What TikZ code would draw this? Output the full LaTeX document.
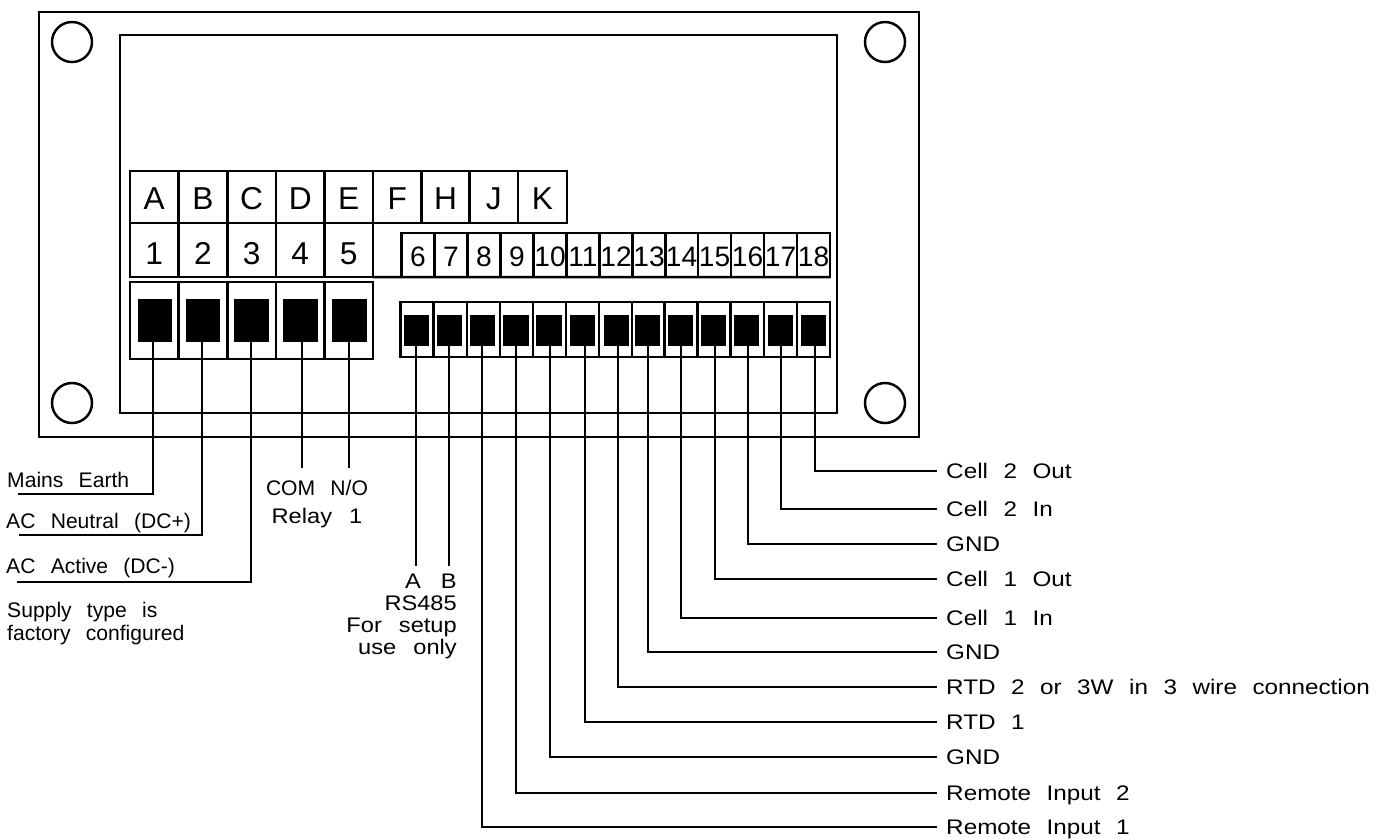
\documentclass[tikz,border=0pt]{standalone}
\usepackage{fontspec}
\setmainfont{Liberation Sans}
\newfontfamily\pinfont{Liberation Sans}
\newfontfamily\leftfont[WordSpace=2.6]{Liberation Sans}
\newfontfamily\busfont[WordSpace=2.6,FakeStretch=1.12]{Liberation Sans}
\newfontfamily\wirefont[WordSpace=2.3,FakeStretch=1.15]{Liberation Sans}

\tikzset{
	box/.style = {draw, inner sep = 0, outer sep = 0},
	hole/.style = {box, circle, minimum size = 0.4cm},
	bigcell/.style = {box, minimum width = 0.487cm, minimum height = 0.52cm, text height = 0.24cm, text depth = 0cm, font = \fontsize{9}{9}\pinfont},
	numcell/.style = {box, minimum width = 0.33cm, minimum height = 0.44cm, text height = 0.22cm, text depth = 0cm, font = \fontsize{8}{8}\pinfont},
	bigslot/.style = {box, minimum width = 0.487cm, minimum height = 0.77cm},
	smallslot/.style = {box, minimum width = 0.33cm, minimum height = 0.55cm},
	bigpad/.style = {box, fill = black, minimum width = 0.32cm, minimum height = 0.41cm},
	smallpad/.style = {box, fill = black, minimum width = 0.23cm, minimum height = 0.29cm},
	leftlabel/.style = {inner sep = 0, anchor = base west, align = left, font = \fontsize{6}{6.3}\leftfont},
	wirelabel/.style = {inner ysep = 0, inner xsep = 0.08cm, anchor = west, text height = 0.15cm, text depth = 0cm, font = \fontsize{6}{6}\wirefont}
}

\begin{document}
\begin{tikzpicture}[x = 0.01cm, y = -0.01cm, line width = 0.7pt]

		\useasboundingbox (0, 0) rectangle (1384, 838);

		\node (case)  at (479, 224.5) [box, minimum width = 8.8cm,  minimum height = 4.25cm] {};
		\node (panel) at (478.5, 224) [box, minimum width = 7.17cm, minimum height = 3.78cm] {};

		\node (holeTL) at ( 72,  42) [hole] {};
		\node (holeTR) at (885,  42) [hole] {};
		\node (holeBL) at ( 72, 403) [hole] {};
		\node (holeBR) at (885, 403) [hole] {};

		\foreach \cx/\name in {154.3/A, 203/B, 251.6/C, 300.2/D, 348.7/E, 397.3/F, 445.5/H, 493.8/J, 542.5/K}
			\node (cell\name) at (\cx, 197) [bigcell] {\name};

		\foreach \cx/\name in {154.3/1, 203/2, 251.6/3, 300.2/4, 348.7/5}
			\node (cell\name) at (\cx, 250) [bigcell, minimum height = 0.54cm, text height = 0.28cm] {\name};

		\foreach \cx/\name in {418/6, 451/7, 484/8, 517/9, 550/10, 583/11, 616/12, 649/13, 681.5/14, 714.5/15, 747.5/16, 780.5/17, 813.5/18}
			\node (cell\name) at (\cx, 255) [numcell] {\name};

		\draw (cell5.south east) -- (cell18.south east);

		\foreach \cx/\name in {154.3/1, 203/2, 251.6/3, 300.2/4, 348.7/5}
			\node (slot\name) at (\cx, 320.5) [bigslot] {};

		\foreach \cx/\name in {417/6, 450.5/7, 483.5/8, 516.5/9, 549.5/10, 582.5/11, 615.5/12, 648.5/13, 681/14, 714/15, 747.5/16, 780.5/17, 813.5/18}
			\node (slot\name) at (\cx, 329.5) [smallslot] {};

		\foreach \px/\name in {155/1, 203/2, 251.5/3, 300.5/4, 349.5/5}
			\node (pad\name) at (\px, 320.5) [bigpad] {};

		\foreach \px/\name in {416.5/6, 449.5/7, 482.5/8, 516/9, 549/10, 582.5/11, 616.5/12, 647.5/13, 680.5/14, 713.5/15, 746.5/16, 780.5/17, 813.5/18}
			\node (pad\name) at (\px, 330.5) [smallpad] {};

		% supply side
		\coordinate (endEarth)   at ( 18, 494);
		\coordinate (endNeutral) at ( 19, 535);
		\coordinate (endActive)  at ( 17, 582);
		\coordinate (wire1) at (153, 494);
		\coordinate (wire2) at (202, 535);
		\coordinate (wire3) at (251, 582);

		\foreach \from/\to in {1/endEarth, 2/endNeutral, 3/endActive}
			\draw (pad\from.south -| wire\from) -- (wire\from) -- (\to);

		\node (labEarth)   at (6, 487) [leftlabel] {Mains Earth};
		\node (labNeutral) at (5, 528) [leftlabel] {AC Neutral (DC+)};
		\node (labActive)  at (5, 573) [leftlabel] {AC Active (DC-)};
		\node (labSupply)  at (6, 640) [leftlabel] {Supply type is\\factory configured};

		% relay and RS485
		\foreach \from/\wx/\wy in {4/302/468, 5/349/468, 6/416/566, 7/449/566} {
			\coordinate (wire\from) at (\wx, \wy);
			\draw (pad\from.south -| wire\from) -- (wire\from);
		}

		\node (labRelay) at (317, 504) [inner sep = 0, align = center, font = \fontsize{6}{8}\busfont] {{\leftfont COM N/O}\\Relay 1};
		\node (labBus)   at (458, 616.5) [inner sep = 0, anchor = east, align = right, font = \fontsize{6}{6.3}\busfont] {A\hspace{0.2cm}B\\RS485\\For setup\\use only};

		% signal side
		\foreach \from/\wx/\wy/\lab in {18/815/471/Cell 2 Out, 17/781/509/Cell 2 In, 16/748/544/GND, 15/715/579/Cell 1 Out,
			14/681/618/Cell 1 In, 13/648/652/GND, 12/618/687/RTD 2 or 3W in 3 wire connection, 11/585/722/RTD 1,
			10/550/757/GND, 9/516/793/Remote Input 2, 8/482/827/Remote Input 1} {
			\node (lab\from) at (937, \wy) [wirelabel] {\lab};
			\coordinate (wire\from) at (\wx, \wy);
			\draw (pad\from.south -| wire\from) -- (wire\from) -- (lab\from.west);
		}

	\end{tikzpicture}
\end{document}
